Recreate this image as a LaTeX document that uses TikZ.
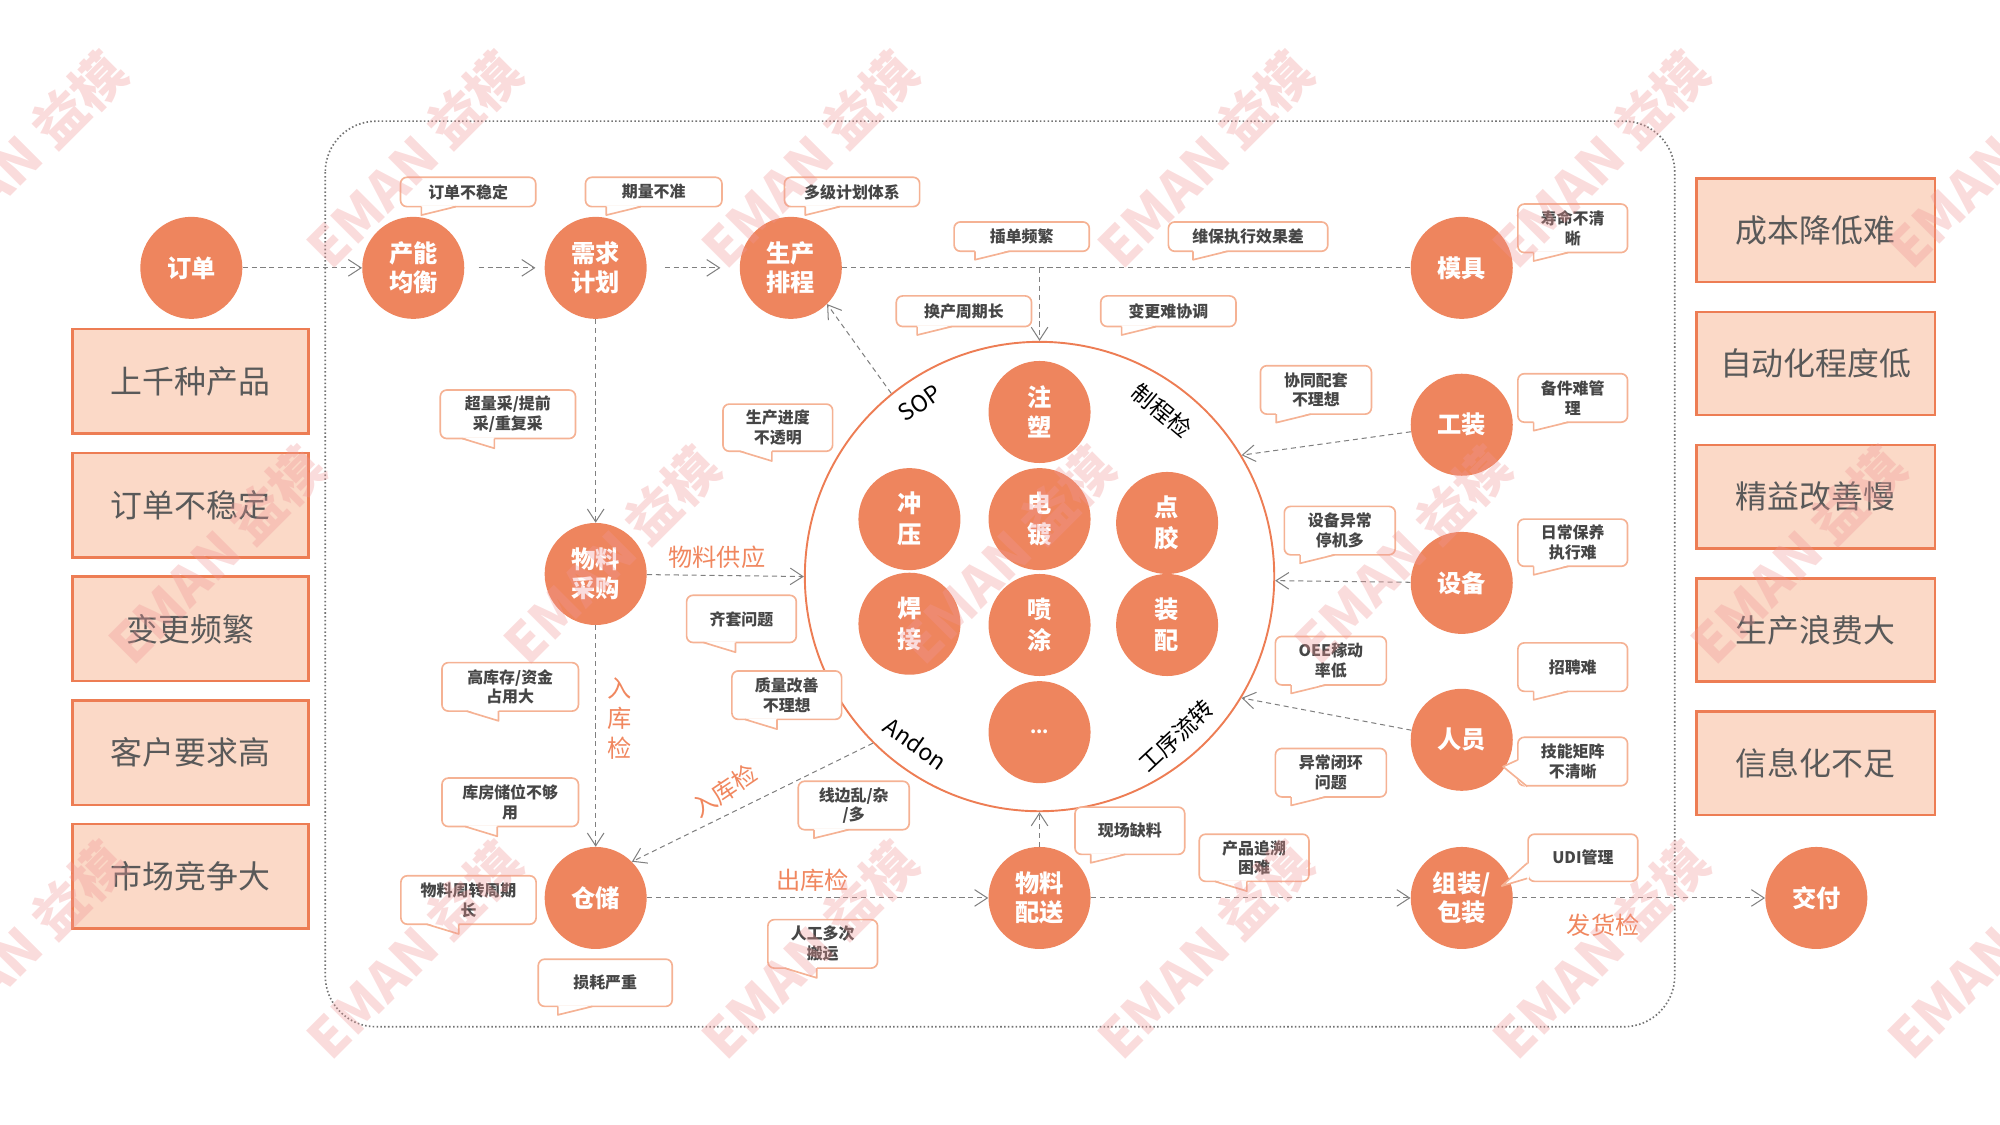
\documentclass[tikz,border=0pt]{standalone}
\usepackage{fontspec}
\setmainfont{Noto Sans CJK SC}
\usetikzlibrary{arrows.meta}

\definecolor{stageorange}{RGB}{238,133,94}
\definecolor{issuefill}{RGB}{251,217,199}
\definecolor{issueline}{RGB}{237,125,84}
\definecolor{noteline}{RGB}{245,178,148}
\definecolor{notegray}{RGB}{70,70,70}
\definecolor{issuegray}{RGB}{89,89,89}
\definecolor{checkorange}{RGB}{240,135,95}
\definecolor{flowgray}{RGB}{128,128,128}
\definecolor{markpink}{RGB}{240,150,150}

% tail of a note, tip under its left part
\newcommand{\tipL}[2]{%
  \fill[white] ([shift={(#2,-1.5)}]#1.south west) -- ([shift={(#2,6)}]#1.south west) -- ([shift={(#2+27,-1.5)}]#1.south west) -- cycle;
  \draw[notetail] ([shift={(#2,-0.6)}]#1.south west) -- ([shift={(#2,6)}]#1.south west) -- ([shift={(#2+27,-0.6)}]#1.south west);}
% tail of a note, tip under its right part
\newcommand{\tipR}[2]{%
  \fill[white] ([shift={(#2-25,-1.5)}]#1.south west) -- ([shift={(#2,7)}]#1.south west) -- ([shift={(#2,-1.5)}]#1.south west) -- cycle;
  \draw[notetail] ([shift={(#2-25,-0.6)}]#1.south west) -- ([shift={(#2,7)}]#1.south west) -- ([shift={(#2,-0.6)}]#1.south west);}

\begin{document}
\begin{tikzpicture}[x=1pt, y=-1pt,
    stage/.style={circle, fill=stageorange, minimum size=80, inner sep=0pt, text=white,
      font=\bfseries\fontsize{19}{23}\selectfont, align=center},
    issue/.style={draw=issueline, fill=issuefill, line width=2pt, minimum width=185,
      minimum height=82, text=issuegray, font=\fontsize{25}{30}\selectfont},
    note/.style={draw=noteline, fill=white, line width=1.3pt, rounded corners=5pt,
      inner sep=1pt, text=notegray, font=\bfseries\fontsize{12.5}{15.5}\selectfont, align=center},
    notetail/.style={draw=noteline, line width=1.3pt, line join=round},
    flow/.style={draw=flowgray, line width=0.8pt, dash pattern=on 4pt off 3pt,
      -{Straight Barb[length=10pt, width=13pt, line width=0.8pt]}},
    flowline/.style={draw=flowgray, line width=0.8pt, dash pattern=on 4pt off 3pt},
    checklabel/.style={text=checkorange, font=\fontsize{19}{23.5}\selectfont, align=center, inner sep=0pt},
    ringlabel/.style={text=black, font=\fontsize{18}{20}\selectfont, inner sep=0pt},
    watermark/.style={text=markpink, text opacity=0.33, rotate=45, font=\bfseries\fontsize{42}{42}\selectfont}]

  \useasboundingbox (0,0) rectangle (1568,882);
  \def\ringradius{184}

  % Draw the dotted frame round the plant
  \draw[flowgray!90!black, line width=1.3pt, dash pattern=on 1.2pt off 1.8pt, rounded corners=40] (255,95) rectangle (1313,805);

  % Left column: order and its problems
  \node[stage] (order) at (150,210) {订单};
  \node[issue] (i1) at (149.5,299) {上千种产品};
  \node[issue] (i2) at (149.5,396) {订单不稳定};
  \node[issue] (i3) at (149.5,493) {变更频繁};
  \node[issue] (i4) at (149.5,590) {客户要求高};
  \node[issue] (i5) at (149.5,687) {市场竞争大};

  % Right column: results
  \node[issue, minimum width=187, minimum height=81] (r1) at (1423.5,180.5) {成本降低难};
  \node[issue, minimum width=187, minimum height=81] (r2) at (1423.5,285) {自动化程度低};
  \node[issue, minimum width=187, minimum height=81] (r3) at (1423.5,389.5) {精益改善慢};
  \node[issue, minimum width=187, minimum height=81] (r4) at (1423.5,494) {生产浪费大};
  \node[issue, minimum width=187, minimum height=81] (r5) at (1423.5,598.5) {信息化不足};

  % Planning chain
  \node[stage] (capacity) at (324,210) {产能\\均衡};
  \node[stage] (demand) at (467,210) {需求\\计划};
  \node[stage] (schedule) at (620,210) {生产\\排程};
  \node[stage] (mould) at (1146,210) {模具};
  \node[stage] (fixture) at (1146,333) {工装};
  \node[stage] (equip) at (1146,457) {设备};
  \node[stage] (staff) at (1146,580) {人员};

  % Material chain
  \node[stage] (purchase) at (467,450) {物料\\采购};
  \node[stage] (store) at (467,704) {仓储};
  \node[stage] (deliver) at (815,704) {物料\\配送};
  \node[stage] (pack) at (1146,704) {组装/\\包装};
  \node[stage] (handover) at (1424,704) {交付};

  % The workshop ring and its processes
  \node[circle, draw=issueline, line width=1.5pt, minimum size=2*\ringradius, inner sep=0pt] (ring) at (815,452) {};
  \node[stage, font=\bfseries\fontsize{19}{24}\selectfont] (mold) at (815,323) {注\\塑};
  \node[stage, font=\bfseries\fontsize{19}{24}\selectfont] (press) at (713,407) {冲\\压};
  \node[stage, font=\bfseries\fontsize{19}{24}\selectfont] (plate) at (815,407) {电\\镀};
  \node[stage, font=\bfseries\fontsize{19}{24}\selectfont] (glue) at (915,410) {点\\胶};
  \node[stage, font=\bfseries\fontsize{19}{24}\selectfont] (weld) at (713,489) {焊\\接};
  \node[stage, font=\bfseries\fontsize{19}{24}\selectfont] (spray) at (815,490) {喷\\涂};
  \node[stage, font=\bfseries\fontsize{19}{24}\selectfont] (assy) at (915,490) {装\\配};
  \node[stage, font=\bfseries\fontsize{14}{16}\selectfont] (more) at (815,574) {...};

  % Labels along the ring
  \node[ringlabel, rotate=35] (sop) at (721,316) {SOP};
  \node[ringlabel, rotate=-40] (inspect) at (911,322) {制程检};
  \node[ringlabel, rotate=-35] (andon) at (718,583) {Andon};
  \node[ringlabel, rotate=43] (transfer) at (922,577) {工序流转};

  % Connectors
  \draw[flow] (order) -- (capacity);
  \draw[flow, shorten <=11pt, shorten >=7pt] (capacity) -- (demand);
  \draw[flow, shorten <=14pt, shorten >=15pt] (demand) -- (schedule);
  \draw[flowline] (schedule) -- (mould);
  \coordinate (drop) at (815,210);
  \draw[flow] (drop) -- (ring.north);
  \draw[flow] (demand) -- (purchase);
  \draw[flow] (purchase) -- (ring.180);
  \draw[flow] (purchase) -- (store);
  \draw[flow] (ring.-135) -- (store.45);
  \draw[flow] (store) -- (deliver);
  \draw[flow] (deliver) -- (ring.south);
  \draw[flow] (deliver) -- (pack);
  \draw[flow] (pack) -- (handover);
  \draw[flow] (ring.129) -- (schedule.-45);
  \draw[flow] (fixture) -- (ring.31);
  \draw[flow] (equip) -- (ring.-1);
  \draw[flow] (staff) -- (ring.-31);

  % Check points
  \node[checklabel] (supply) at (562,437) {物料供应};
  \node[checklabel] (incheck) at (486,563) {入\\库\\检};
  \node[checklabel, rotate=34] (incheck2) at (568,620) {入库检};
  \node[checklabel] (outcheck) at (637,690) {出库检};
  \node[checklabel] (shipcheck) at (1257,725) {发货检};

  % Problem notes
  \node[note, minimum width=106, minimum height=23] (n1) at (367,150.5) {订单不稳定};
  \tipL{n1}{17}
  \node[note, minimum width=107, minimum height=23] (n2) at (512.5,150.5) {期量不准};
  \tipL{n2}{17}
  \node[note, minimum width=106, minimum height=23] (n3) at (668,150.5) {多级计划体系};
  \tipL{n3}{17}
  \node[note, minimum width=106, minimum height=23] (n4) at (801,185.5) {插单频繁};
  \tipL{n4}{17}
  \node[note, minimum width=125, minimum height=23] (n5) at (978.5,185.5) {维保执行效果差};
  \tipL{n5}{20}
  \node[note, minimum width=106, minimum height=24] (n6) at (755.7,244) {换产周期长};
  \tipL{n6}{17}
  \node[note, minimum width=106, minimum height=24] (n7) at (916,244) {变更难协调};
  \tipL{n7}{17}
  \node[note, minimum width=86, minimum height=38] (n8) at (1233,179) {寿命不清\\晰};
  \tipL{n8}{13}
  \node[note, minimum width=87, minimum height=38] (n9) at (1031.7,305.7) {协同配套\\不理想};
  \tipL{n9}{13}
  \node[note, minimum width=86, minimum height=38] (n10) at (1233,312) {备件难管\\理};
  \tipL{n10}{13}
  \node[note, minimum width=87, minimum height=38] (n11) at (1050.4,416) {设备异常\\停机多};
  \tipL{n11}{13}
  \node[note, minimum width=86, minimum height=37] (n12) at (1233,425.5) {日常保养\\执行难};
  \tipL{n12}{13}
  \node[note, minimum width=87, minimum height=38] (n13) at (1043.4,518) {OEE稼动\\率低};
  \tipL{n13}{13}
  \node[note, minimum width=86, minimum height=38] (n14) at (1233,523) {招聘难};
  \tipL{n14}{13}
  \node[note, minimum width=87, minimum height=38] (n15) at (1043.4,605.8) {异常闭环\\问题};
  \tipL{n15}{13}
  \node[note, minimum width=86, minimum height=38] (n16) at (1233,597) {技能矩阵\\不清晰};
  \fill[white] ([shift={(1.5,-1)}]n16.west) -- ([shift={(-11,4)}]n16.west) -- ([shift={(8,1.5)}]n16.south west) -- ([shift={(1.5,-12)}]n16.south west) -- cycle;
  \draw[notetail] ([shift={(0,-1)}]n16.west) -- ([shift={(-11,4)}]n16.west) -- ([shift={(8,0)}]n16.south west);
  \node[note, minimum width=86, minimum height=37] (n17) at (885.8,651.3) {现场缺料};
  \tipL{n17}{13}
  \node[note, minimum width=86, minimum height=37] (n18) at (983.2,672.5) {产品追溯\\困难};
  \tipR{n18}{38}
  \node[note, minimum width=86, minimum height=37] (n19) at (1241,672.5) {UDI管理};
  \fill[white] ([shift={(1.5,-15)}]n19.south west) -- ([shift={(-20,3)}]n19.south west) -- ([shift={(1.5,-3)}]n19.south west) -- cycle;
  \draw[notetail] ([shift={(0,-15)}]n19.south west) -- ([shift={(-20,3)}]n19.south west) -- ([shift={(0,-3)}]n19.south west);
  \node[note, minimum width=106, minimum height=38] (n20) at (398.2,324.8) {超量采/提前\\采/重复采};
  \tipR{n20}{43}
  \node[note, minimum width=86, minimum height=37] (n21) at (609.8,335.3) {生产进度\\不透明};
  \tipR{n21}{39}
  \node[note, minimum width=86, minimum height=37] (n22) at (581.3,485.2) {齐套问题};
  \tipR{n22}{39}
  \node[note, minimum width=86, minimum height=38] (n23) at (616.8,545) {质量改善\\不理想};
  \tipR{n23}{36}
  \node[note, minimum width=107, minimum height=38] (n24) at (400,538.5) {高库存/资金\\占用大};
  \tipR{n24}{45}
  \node[note, minimum width=107, minimum height=38] (n25) at (400,629) {库房储位不够\\用};
  \tipR{n25}{44}
  \node[note, minimum width=87, minimum height=38] (n26) at (669.3,631.5) {线边乱/杂\\/多};
  \tipL{n26}{13}
  \node[note, minimum width=106, minimum height=38] (n27) at (367.3,705.6) {物料周转周期\\长};
  \tipR{n27}{46}
  \node[note, minimum width=86, minimum height=38] (n28) at (645,740) {人工多次\\搬运};
  \tipR{n28}{39}
  \node[note, minimum width=105, minimum height=37] (n29) at (474.5,770.5) {损耗严重};
  \tipL{n29}{16}

  % Watermark
  \foreach \wx in {15,325,635,945,1255,1565} {
    \node[watermark] at (\wx,125) {EMAN 益模};
    \node[watermark] at (\wx,745) {EMAN 益模};
  }
  \foreach \wx in {170,480,790,1100,1410}
    \node[watermark] at (\wx,435) {EMAN 益模};
\end{tikzpicture}
\end{document}
